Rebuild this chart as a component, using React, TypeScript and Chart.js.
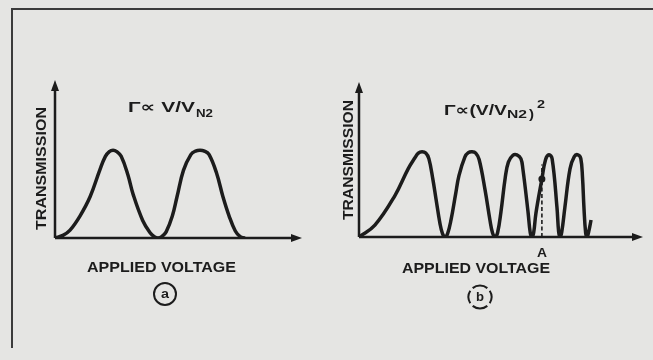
import { useEffect, useRef } from "react";
import { Chart, registerables } from "chart.js";

Chart.register(...registerables);

const INK = "#1c1c1c";
const PAPER = "#e5e5e3";
const FONT = '"Liberation Sans", "DejaVu Sans", sans-serif';

// Panel (a): Γ ∝ V/VN2 — transmission vs applied voltage (axis runs 0..100)
const voltageA = [0, 3.2, 6.1, 10.1, 14.2, 18.2, 20.4, 22.0, 23.5, 25.0, 26.8, 29.5, 31.6, 35.5, 38.5, 40.2, 41.7, 43.2, 45.0, 47.5, 49.4, 52.0, 55.0, 56.9, 58.7, 60.5, 62.4, 65.4, 68.0, 70.5, 73.0, 75.0, 76.9];
const transmissionA = [0, 0.03, 0.09, 0.25, 0.47, 0.78, 0.93, 0.985, 1, 0.985, 0.93, 0.72, 0.5, 0.2, 0.06, 0.015, 0, 0.015, 0.07, 0.25, 0.47, 0.77, 0.95, 0.99, 1, 0.99, 0.95, 0.74, 0.47, 0.25, 0.08, 0.015, 0];

// Panel (b): Γ ∝ (V/VN2)² — fringes crowd together as voltage rises
const voltageB = [0, 5.6, 12.7, 17.3, 19.7, 20.9, 22.2, 23.5, 24.6, 26.0, 27.1, 28.5, 29.4, 30.3, 31.2, 32.4, 34.0, 35.2, 37.3, 38.5, 39.8, 41.1, 42.3, 44.4, 46.1, 47.0, 47.9, 48.8, 50.0, 51.5, 52.6, 54.2, 55.6, 57.0, 57.7, 59.5, 60.3, 60.9, 61.5, 62.3, 64.4, 65.7, 66.9, 68.0, 69.7, 70.3, 70.8, 71.4, 72.5, 74.3, 75.8, 77.1, 78.1, 78.7, 79.2, 79.8, 80.3, 81.0, 81.7];
const transmissionB = [0, 0.14, 0.49, 0.8, 0.93, 0.985, 1, 0.985, 0.92, 0.68, 0.45, 0.16, 0.04, 0, 0.04, 0.2, 0.5, 0.72, 0.94, 0.99, 1, 0.985, 0.91, 0.55, 0.2, 0.05, 0, 0.05, 0.3, 0.7, 0.88, 0.96, 0.965, 0.92, 0.8, 0.3, 0.05, 0, 0.05, 0.28, 0.68, 0.91, 0.965, 0.92, 0.35, 0.06, 0, 0.06, 0.35, 0.8, 0.945, 0.965, 0.92, 0.7, 0.35, 0.05, 0, 0.08, 0.2];

// Operating point A on panel (b)
const markerVoltage = 64.4;
const markerTop = 0.85;
const markerLevel = 0.68;

const yMaxA = 1.8;
const yMaxB = 1.82;

function fitText(
  ctx: CanvasRenderingContext2D,
  text: string,
  x: number,
  y: number,
  width: number,
  size: number,
  align: "left" | "center" = "left",
  rotate = false,
  baseline: CanvasTextBaseline = "alphabetic"
) {
  ctx.save();
  ctx.font = `bold ${size}px ${FONT}`;
  ctx.fillStyle = INK;
  ctx.textAlign = align;
  ctx.textBaseline = baseline;
  const w = ctx.measureText(text).width || 1;
  ctx.translate(x, y);
  if (rotate) ctx.rotate(-Math.PI / 2);
  ctx.scale(width / w, 1);
  ctx.fillText(text, 0, 0);
  ctx.restore();
}

const arrowAxes = {
  id: "arrowAxes",
  beforeDatasetsDraw(chart: any) {
    const { ctx, chartArea } = chart;
    const { left, right, top, bottom } = chartArea;
    ctx.save();
    ctx.strokeStyle = INK;
    ctx.fillStyle = INK;
    ctx.lineWidth = 2.5;
    ctx.lineCap = "butt";
    ctx.beginPath();
    ctx.moveTo(left, bottom);
    ctx.lineTo(left, top + 8);
    ctx.moveTo(left, bottom);
    ctx.lineTo(right - 8, bottom);
    ctx.stroke();
    ctx.beginPath();
    ctx.moveTo(left, top);
    ctx.lineTo(left - 4, top + 11);
    ctx.lineTo(left + 4, top + 11);
    ctx.closePath();
    ctx.fill();
    ctx.beginPath();
    ctx.moveTo(right, bottom);
    ctx.lineTo(right - 11, bottom - 4);
    ctx.lineTo(right - 11, bottom + 4);
    ctx.closePath();
    ctx.fill();
    ctx.restore();
  },
};

const panelALabels = {
  id: "panelALabels",
  afterDraw(chart: any) {
    const { ctx } = chart;
    // outer frame
    ctx.save();
    ctx.strokeStyle = "#3b3b3b";
    ctx.lineWidth = 2;
    ctx.beginPath();
    ctx.moveTo(12, 348);
    ctx.lineTo(12, 9);
    ctx.lineTo(653, 9);
    ctx.stroke();
    ctx.restore();

    fitText(ctx, "Γ∝ V/V", 128, 112, 67, 15);
    fitText(ctx, "N2", 196, 117, 17, 11);
    fitText(ctx, "TRANSMISSION", 42, 168.5, 123, 15, "center", true, "middle");
    fitText(ctx, "APPLIED VOLTAGE", 87, 272, 149, 15);

    ctx.save();
    ctx.strokeStyle = INK;
    ctx.lineWidth = 2;
    ctx.beginPath();
    ctx.arc(165, 294, 11, 0, Math.PI * 2);
    ctx.stroke();
    ctx.restore();
    fitText(ctx, "a", 165, 294.5, 8, 12, "center", false, "middle");
  },
};

const panelBLabels = {
  id: "panelBLabels",
  afterDraw(chart: any) {
    const { ctx } = chart;
    fitText(ctx, "Γ∝(V/V", 444, 115, 63, 15);
    fitText(ctx, "N2", 507, 118, 20, 11);
    fitText(ctx, ")", 529, 118, 5, 13);
    fitText(ctx, "2", 537, 108, 8, 11);
    fitText(ctx, "TRANSMISSION", 348.5, 160, 120, 15, "center", true, "middle");
    fitText(ctx, "APPLIED VOLTAGE", 402, 273, 148, 15);
    fitText(ctx, "A", 542, 257, 10, 12, "center");

    ctx.save();
    ctx.strokeStyle = INK;
    ctx.lineWidth = 2;
    const cx = 480;
    const cy = 297;
    const r = 11.5;
    const arcs = [
      [-0.72, -0.28],
      [-0.18, 0.18],
      [0.28, 0.72],
      [0.82, 1.18],
    ];
    for (const [a0, a1] of arcs) {
      ctx.beginPath();
      ctx.arc(cx, cy, r, a0 * Math.PI, a1 * Math.PI);
      ctx.stroke();
    }
    ctx.restore();
    fitText(ctx, "b", 480, 297.5, 8, 13, "center", false, "middle");
  },
};

function baseOptions(padding: any, yMax: number) {
  return {
    responsive: false,
    animation: false as const,
    devicePixelRatio: 1,
    layout: { padding },
    plugins: { legend: { display: false }, tooltip: { enabled: false } },
    elements: { point: { radius: 0 } },
    scales: {
      x: { type: "linear" as const, min: 0, max: 100, display: false },
      y: { type: "linear" as const, min: 0, max: yMax, display: false },
    },
  };
}

export default function App() {
  const refA = useRef<HTMLCanvasElement>(null);
  const refB = useRef<HTMLCanvasElement>(null);

  useEffect(() => {
    document.body.style.margin = "0";
    const chartA = new Chart(refA.current!, {
      type: "line",
      data: {
        datasets: [
          {
            data: voltageA.map((v, i) => ({ x: v, y: transmissionA[i] })),
            borderColor: INK,
            borderWidth: 3.5,
            tension: 0.4,
            borderJoinStyle: "round",
            fill: false,
          },
        ],
      },
      options: baseOptions({ left: 55, top: 80, right: 351, bottom: 122 }, yMaxA) as any,
      plugins: [arrowAxes, panelALabels],
    });

    const chartB = new Chart(refB.current!, {
      type: "line",
      data: {
        datasets: [
          {
            data: voltageB.map((v, i) => ({ x: v, y: transmissionB[i] })),
            borderColor: INK,
            borderWidth: 3.5,
            tension: 0.4,
            borderJoinStyle: "round",
            fill: false,
          },
          {
            data: [
              { x: markerVoltage, y: 0 },
              { x: markerVoltage, y: markerTop },
            ],
            borderColor: INK,
            borderWidth: 1.6,
            borderDash: [4, 2.5],
            fill: false,
          },
          {
            data: [{ x: markerVoltage, y: markerLevel }],
            showLine: false,
            pointRadius: 3.5,
            pointBackgroundColor: INK,
            pointBorderWidth: 0,
          },
        ],
      },
      options: baseOptions({ left: 359, top: 82, right: 10, bottom: 123 }, yMaxB) as any,
      plugins: [arrowAxes, panelBLabels],
    });

    return () => {
      chartA.destroy();
      chartB.destroy();
    };
  }, []);

  const canvasStyle: React.CSSProperties = { position: "absolute", left: 0, top: 0 };
  return (
    <div style={{ position: "fixed", left: 0, top: 0, width: 653, height: 360, background: PAPER, overflow: "hidden" }}>
      <canvas ref={refA} width={653} height={360} style={canvasStyle} />
      <canvas ref={refB} width={653} height={360} style={canvasStyle} />
    </div>
  );
}
